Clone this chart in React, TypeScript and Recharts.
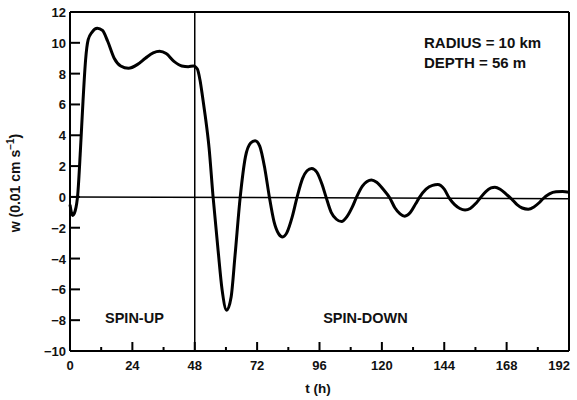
import React from 'react';
import { LineChart, Line, XAxis, YAxis, ReferenceLine, ReferenceDot } from 'recharts';

// vertical velocity w (0.01 cm/s) against time t (h)
const hours = [
  0, 1, 2, 3, 4, 5, 6, 7, 8.5, 10.5, 12.5, 14.5, 17, 19.5, 22.5, 26, 29, 32, 34.5, 37, 40, 43, 45.5, 47.5,
  49, 50, 51, 52, 53.5, 55, 57, 58.5, 60.3, 62, 63.5, 65.5, 67.5, 69.5, 71.2, 73, 75, 76.7, 78.5, 80.3,
  81.8, 83.5, 85.5, 87.4, 89.5, 91.2, 93, 95, 97, 98.5, 100.5, 102.5, 104.5, 106.5, 108.5, 110.3, 112.5,
  114.3, 116, 118, 120.5, 123, 125, 127, 128.8, 131, 133, 134.4, 137, 139.5, 141.5, 144, 146, 148, 150,
  152, 154, 156, 157.7, 160, 162, 163.5, 165.5, 168, 170, 172, 174, 176.3, 178.5, 180.5, 182, 184.5, 187,
  189.5, 192,
];
const wSpeed = [
  -0.5, -1.2, -0.9, 0.2, 3.0, 6.2, 8.9, 10.2, 10.7, 10.95, 10.8, 10.1, 9.0, 8.5, 8.35, 8.6, 9.0, 9.35, 9.45,
  9.3, 8.8, 8.5, 8.45, 8.5, 8.3, 7.6, 6.5, 5.3, 3.2, 0.1, -3.5, -6.0, -7.35, -6.5, -3.8, 0, 2.6, 3.5, 3.65,
  3.3, 1.8, 0, -1.6, -2.4, -2.6, -2.3, -1.3, 0, 1.2, 1.7, 1.85, 1.6, 0.8, 0, -1.0, -1.45, -1.6, -1.3, -0.7,
  0, 0.7, 1.0, 1.1, 0.95, 0.5, -0.05, -0.7, -1.1, -1.25, -1.0, -0.45, -0.05, 0.5, 0.75, 0.8, 0.5, -0.1,
  -0.5, -0.75, -0.85, -0.75, -0.45, -0.1, 0.35, 0.58, 0.63, 0.5, 0.15, -0.15, -0.5, -0.72, -0.8, -0.65,
  -0.38, -0.12, 0.2, 0.33, 0.35, 0.3,
];

const xTicks = [0, 12, 24, 36, 48, 60, 72, 84, 96, 108, 120, 132, 144, 156, 168, 180, 192];
const xLabels = ['0', '24', '48', '72', '96', '120', '144', '168', '192'];
const yTicks = [-10, -8, -6, -4, -2, 0, 2, 4, 6, 8, 10, 12];

const data = hours.map((t, i) => ({ t, w: wSpeed[i] }));

const font = '"Liberation Sans", Arial, sans-serif';

const XTick = (props: any) => {
  const { x, y, payload } = props;
  const label = String(payload.value);
  const major = xLabels.includes(label);
  const last = label === xLabels[xLabels.length - 1];
  return (
    <g>
      <line x1={x} y1={y} x2={x} y2={y - (major ? 9 : 4)} stroke="#000" strokeWidth={2} />
      {major && (
        <text
          x={last ? x + 1 : x}
          y={y + 19}
          textAnchor={last ? 'end' : 'middle'}
          fontSize={13}
          fontWeight="bold"
          fontFamily={font}
          fill="#111"
        >
          {label}
        </text>
      )}
    </g>
  );
};

const YTick = (props: any) => {
  const { x, y, payload } = props;
  const v = payload.value;
  return (
    <g>
      <line x1={x} y1={y} x2={x + 10} y2={y} stroke="#000" strokeWidth={2} />
      <text x={x - 4} y={y + 5} textAnchor="end" fontSize={13} fontWeight="bold" fontFamily={font} fill="#111">
        {v < 0 ? `\u2212${Math.abs(v)}` : v}
      </text>
    </g>
  );
};

const textStyle = { fontSize: 14.5, fontWeight: 'bold', fontFamily: font, fill: '#111' };
const noteStyle = { ...textStyle, fontSize: 15 };

const App = () => (
  <div style={{ position: 'absolute', left: 0, top: 0, width: 577, height: 400, background: '#fff' }}>
    <LineChart width={577} height={400} data={data} margin={{ top: 12, right: 8, left: 0, bottom: 0 }}>
      <XAxis
        dataKey="t"
        type="number"
        domain={[0, 192]}
        ticks={xTicks}
        interval={0}
        tickSize={0}
        tickMargin={0}
        tickLine={false}
        axisLine={{ stroke: '#000', strokeWidth: 2 }}
        tick={XTick}
        height={49}
        label={{
          content: () => (
            <text x={318} y={393} textAnchor="middle" fontSize={13.5} fontWeight="bold" fontFamily={font} fill="#111">
              t (h)
            </text>
          ),
        }}
      />
      <YAxis
        type="number"
        domain={[-10, 12]}
        ticks={yTicks}
        interval={0}
        tickSize={0}
        tickMargin={0}
        tickLine={false}
        axisLine={{ stroke: '#000', strokeWidth: 2 }}
        tick={YTick}
        width={70}
        label={{
          content: () => (
            <text
              transform="rotate(-90 20 183)"
              x={20}
              y={183}
              textAnchor="middle"
              fontSize={14}
              fontWeight="bold"
              fontFamily={font}
              fill="#111"
            >
              w (0.01 cm s<tspan dy={-6} fontSize={10}>{'\u22121'}</tspan>
              <tspan dy={6}>)</tspan>
            </text>
          ),
        }}
      />
      <ReferenceLine y={12} stroke="#000" strokeWidth={2} />
      <ReferenceLine x={192} stroke="#000" strokeWidth={2} />
      <ReferenceLine x={48} stroke="#000" strokeWidth={1.5} />
      <ReferenceLine
        segment={[
          { x: 0, y: 0 },
          { x: 192, y: -0.12 },
        ]}
        stroke="#000"
        strokeWidth={1.5}
      />
      <ReferenceDot x={24.8} y={-7.86} r={0} label={{ value: 'SPIN-UP', position: 'center', ...textStyle }} />
      <ReferenceDot x={113.7} y={-7.86} r={0} label={{ value: 'SPIN-DOWN', position: 'center', ...textStyle }} />
      <ReferenceDot x={136.2} y={10} r={0} label={{ value: 'RADIUS = 10 km', position: 'right', offset: 0, ...noteStyle }} />
      <ReferenceDot x={136.2} y={8.7} r={0} label={{ value: 'DEPTH = 56 m', position: 'right', offset: 0, ...noteStyle }} />
      <Line
        type="monotone"
        dataKey="w"
        stroke="#000"
        strokeWidth={3}
        dot={false}
        isAnimationActive={false}
      />
    </LineChart>
  </div>
);

export default App;
